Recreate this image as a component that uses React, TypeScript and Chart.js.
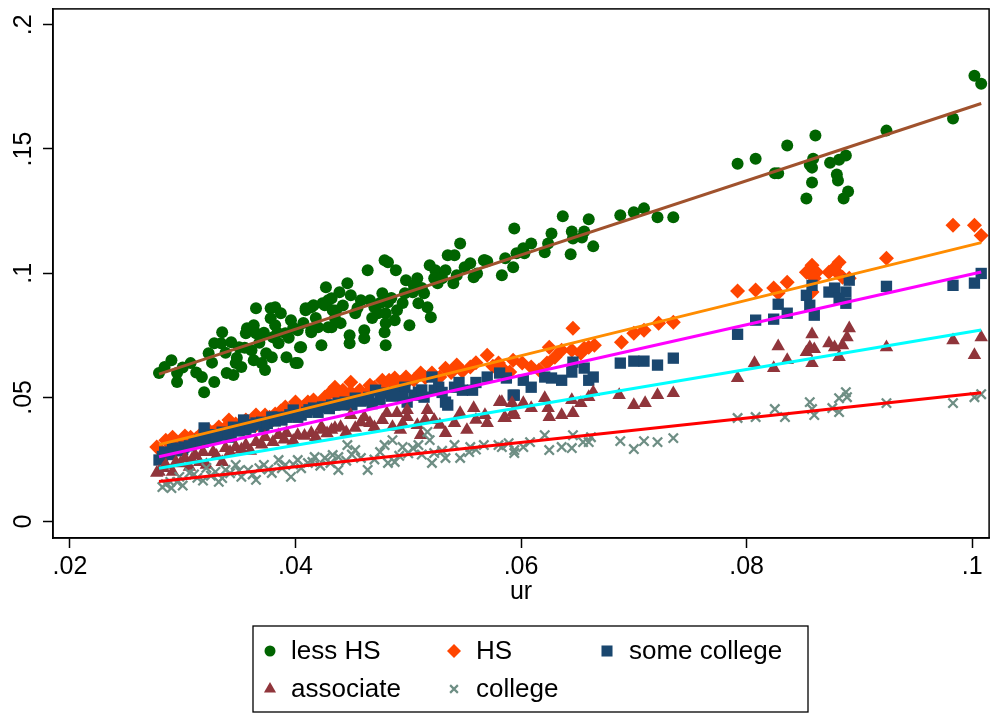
import React, { useEffect, useRef } from "react";
import { Chart, registerables } from "chart.js";

Chart.register(...registerables);

const FONT = "'Liberation Sans', Arial, Helvetica, sans-serif";

const xTickVals = [0.02, 0.04, 0.06, 0.08, 0.1];
const xTickLabels = [".02", ".04", ".06", ".08", ".1"];
const yTickVals = [0, 0.05, 0.1, 0.15, 0.2];
const yTickLabels = ["0", ".05", ".1", ".15", ".2"];
const xTitle = "ur";
const seriesNames = ["less HS", "HS", "some college", "associate", "college"];

const lessHS: number[][] = [
  [0.0279, 0.0598], [0.029, 0.065], [0.0284, 0.0622], [0.0295, 0.0562], [0.0295, 0.0598], [0.0307, 0.0638],
  [0.0317, 0.0582], [0.0319, 0.0521], [0.0328, 0.0562], [0.0323, 0.0678], [0.0328, 0.0718], [0.0334, 0.0718],
  [0.0335, 0.0762], [0.0339, 0.0598], [0.0343, 0.0722], [0.0345, 0.059], [0.0347, 0.0638], [0.0352, 0.0622],
  [0.035, 0.0702], [0.0356, 0.0758], [0.0357, 0.0778], [0.0363, 0.079], [0.0365, 0.0758], [0.0361, 0.069],
  [0.0365, 0.0859], [0.0363, 0.065], [0.037, 0.0638], [0.0373, 0.061], [0.0374, 0.0678], [0.0378, 0.0859],
  [0.0382, 0.0863], [0.0378, 0.0819], [0.0382, 0.079], [0.0387, 0.0839], [0.038, 0.0742], [0.0385, 0.0718],
  [0.0379, 0.0662], [0.0392, 0.0662], [0.0391, 0.0758], [0.0396, 0.0811], [0.04, 0.0638], [0.0405, 0.0702],
  [0.0409, 0.0851], [0.0414, 0.0863], [0.0414, 0.0762], [0.042, 0.0782], [0.0423, 0.071], [0.0424, 0.0879],
  [0.0427, 0.0943], [0.0429, 0.0891], [0.0429, 0.0782], [0.0435, 0.0819],
  [0.0402, 0.077], [0.0404, 0.0702], [0.0402, 0.0638], [0.0409, 0.0859], [0.0416, 0.0871], [0.0414, 0.077],
  [0.0426, 0.0871], [0.0432, 0.0899], [0.0433, 0.0851], [0.0432, 0.0782], [0.0439, 0.0923], [0.044, 0.0799],
  [0.0446, 0.096], [0.0448, 0.075], [0.0448, 0.0718], [0.0449, 0.0911], [0.0453, 0.0839], [0.0458, 0.0891],
  [0.0461, 0.077], [0.0461, 0.0738], [0.0464, 0.1012], [0.0466, 0.0891], [0.047, 0.0863], [0.0473, 0.0839],
  [0.0479, 0.1052], [0.0482, 0.1044], [0.0477, 0.0919], [0.0482, 0.0883], [0.048, 0.0839], [0.048, 0.0799],
  [0.0479, 0.0762], [0.048, 0.071], [0.0488, 0.0811], [0.0489, 0.1012], [0.049, 0.0851], [0.0497, 0.0919],
  [0.0498, 0.0972], [0.0501, 0.079], [0.0504, 0.0923], [0.0508, 0.098], [0.0509, 0.0879], [0.0514, 0.0919],
  [0.0517, 0.0863], [0.0519, 0.1032], [0.052, 0.0823], [0.0524, 0.1012], [0.0523, 0.098], [0.0526, 0.096],
  [0.0533, 0.1012], [0.0535, 0.1072], [0.0541, 0.1072], [0.0546, 0.112], [0.0543, 0.0992], [0.055, 0.1024],
  [0.0555, 0.104], [0.0558, 0.0984], [0.0568, 0.1052], [0.0561, 0.0999],
  [0.0567, 0.1052], [0.057, 0.1048], [0.0583, 0.0992], [0.0586, 0.106], [0.0593, 0.1024], [0.0594, 0.118],
  [0.0596, 0.108], [0.0602, 0.11], [0.0603, 0.108], [0.0609, 0.112], [0.0621, 0.1084], [0.0624, 0.112],
  [0.0627, 0.116], [0.0637, 0.1229], [0.0644, 0.1076], [0.0645, 0.1168], [0.0646, 0.114], [0.0654, 0.1144],
  [0.0656, 0.1168], [0.066, 0.1217], [0.0664, 0.1108], [0.0688, 0.1233], [0.07, 0.1245], [0.0709, 0.1261],
  [0.0721, 0.1225], [0.0735, 0.1225],
  [0.0792, 0.1441], [0.0808, 0.1461], [0.0825, 0.1402], [0.0828, 0.1402], [0.0836, 0.1514], [0.0861, 0.1554],
  [0.0853, 0.1301], [0.0858, 0.1365], [0.0856, 0.1437], [0.0858, 0.1425], [0.0859, 0.1461], [0.0874, 0.1445],
  [0.088, 0.1397], [0.0881, 0.1373], [0.0882, 0.1457], [0.0888, 0.1474], [0.089, 0.1329], [0.0886, 0.1301],
  [0.0924, 0.1574], [0.0983, 0.1623], [0.1002, 0.1795], [0.1008, 0.1763],
  [0.03, 0.062], [0.0312, 0.06], [0.0326, 0.064], [0.0338, 0.068], [0.0348, 0.066], [0.0355, 0.07],
  [0.0368, 0.072], [0.0372, 0.076], [0.0384, 0.076], [0.0394, 0.074], [0.0398, 0.078], [0.0407, 0.08],
  [0.0418, 0.082], [0.0436, 0.085], [0.0442, 0.087], [0.0455, 0.086], [0.0468, 0.082], [0.0475, 0.088],
  [0.0485, 0.09], [0.0495, 0.088], [0.0505, 0.095], [0.0512, 0.094], [0.053, 0.098], [0.054, 0.096],
];

const hs: number[][] = [
  [0.0277, 0.03], [0.0285, 0.0328], [0.0291, 0.034], [0.0299, 0.032], [0.0307, 0.034], [0.0316, 0.0352],
  [0.0323, 0.0369], [0.0332, 0.0381], [0.0341, 0.0409], [0.0347, 0.0393], [0.0356, 0.0409], [0.0365, 0.0429],
  [0.0373, 0.0429], [0.0382, 0.0433], [0.0391, 0.0461], [0.04, 0.0481], [0.0411, 0.0481], [0.042, 0.0469],
  [0.0431, 0.0521], [0.0438, 0.0501],
  [0.028, 0.0288], [0.0295, 0.0308], [0.0316, 0.032], [0.0341, 0.0369], [0.0365, 0.0389], [0.0391, 0.0433],
  [0.042, 0.0449], [0.03, 0.033], [0.033, 0.035], [0.036, 0.04], [0.038, 0.041], [0.0405, 0.044],
  [0.035, 0.038], [0.031, 0.031], [0.037, 0.041],
  [0.0435, 0.0541], [0.0442, 0.0529], [0.0449, 0.0561], [0.0449, 0.0521], [0.0457, 0.0529], [0.0464, 0.0521],
  [0.0466, 0.0549], [0.0477, 0.0569], [0.0483, 0.0569], [0.0488, 0.0578], [0.0498, 0.0582], [0.0498, 0.0557],
  [0.0511, 0.0598], [0.0521, 0.0598], [0.0533, 0.0617], [0.0543, 0.063], [0.0555, 0.0622], [0.057, 0.067],
  [0.058, 0.0638], [0.0528, 0.0582], [0.0488, 0.0549], [0.0438, 0.0517], [0.0426, 0.0501],
  [0.0585, 0.061], [0.0593, 0.065], [0.0601, 0.0638], [0.0609, 0.0622], [0.0623, 0.0638], [0.0625, 0.0702],
  [0.063, 0.0662], [0.0636, 0.069], [0.0646, 0.0778], [0.0645, 0.069], [0.0653, 0.0678], [0.066, 0.0702],
  [0.0665, 0.071], [0.0656, 0.0698], [0.0689, 0.0722], [0.07, 0.0758], [0.0709, 0.077], [0.0722, 0.0799],
  [0.0735, 0.0803], [0.059, 0.0602], [0.0616, 0.061],
  [0.0792, 0.0928], [0.0808, 0.0932], [0.0824, 0.094], [0.0828, 0.092], [0.0836, 0.0964], [0.0853, 0.1004],
  [0.0858, 0.1032], [0.0862, 0.1004], [0.0858, 0.0924], [0.0873, 0.1004], [0.088, 0.1004], [0.0882, 0.1044],
  [0.0878, 0.1023], [0.0885, 0.0984], [0.0891, 0.098], [0.0924, 0.106], [0.0983, 0.1193], [0.1002, 0.1193],
  [0.1008, 0.1152], [0.086, 0.098],
  [0.0288, 0.0315], [0.0302, 0.0345], [0.0312, 0.0335], [0.0327, 0.036], [0.0337, 0.0375], [0.0352, 0.0395],
  [0.0362, 0.0405], [0.0377, 0.042], [0.0387, 0.0445], [0.0397, 0.0455], [0.0408, 0.0465], [0.0416, 0.049],
  [0.0428, 0.048], [0.0445, 0.05], [0.0455, 0.051], [0.047, 0.054], [0.048, 0.053], [0.0493, 0.056],
  [0.0505, 0.057], [0.0515, 0.058], [0.0538, 0.06], [0.0548, 0.0605], [0.056, 0.064], [0.0575, 0.0625],
];

const someCollege: number[][] = [
  [0.0279, 0.0248], [0.0284, 0.028], [0.0291, 0.0296], [0.0301, 0.03], [0.031, 0.032], [0.0319, 0.0377],
  [0.0321, 0.0328], [0.0329, 0.0336], [0.0338, 0.0348], [0.0343, 0.034], [0.0354, 0.0409], [0.0356, 0.0369],
  [0.0365, 0.0397], [0.0372, 0.0381], [0.0379, 0.0421], [0.0388, 0.0409], [0.0398, 0.0449], [0.0405, 0.0429],
  [0.0416, 0.0457], [0.0426, 0.0461], [0.0435, 0.0469],
  [0.0424, 0.0461], [0.0432, 0.0469], [0.0438, 0.0477], [0.0444, 0.0481], [0.0453, 0.0497], [0.0461, 0.0489],
  [0.0471, 0.0529], [0.0479, 0.0517], [0.0488, 0.0521], [0.0497, 0.0541], [0.0499, 0.0481], [0.0505, 0.0509],
  [0.0509, 0.0521], [0.0521, 0.0582], [0.0523, 0.0529], [0.0533, 0.0481], [0.0541, 0.0541], [0.0548, 0.0529],
  [0.0557, 0.0529], [0.057, 0.0582], [0.0581, 0.0598], [0.0593, 0.0509], [0.0535, 0.0469], [0.0514, 0.0501],
  [0.0527, 0.0541],
  [0.0587, 0.0578], [0.0594, 0.0509], [0.0602, 0.0569], [0.0609, 0.0541], [0.0621, 0.0582], [0.0627, 0.0578],
  [0.0636, 0.0569], [0.0645, 0.0602], [0.0646, 0.0642], [0.0656, 0.0618], [0.066, 0.0569], [0.0664, 0.0582],
  [0.0688, 0.0638], [0.07, 0.0646], [0.0709, 0.0646], [0.0721, 0.063], [0.0735, 0.0658],
  [0.0792, 0.0754], [0.0808, 0.0811], [0.0824, 0.0815], [0.0828, 0.0875], [0.0836, 0.0839], [0.0853, 0.0911],
  [0.0858, 0.0951], [0.0856, 0.0871], [0.086, 0.0831], [0.0873, 0.0924], [0.0878, 0.094], [0.0882, 0.0899],
  [0.0888, 0.0879], [0.0888, 0.0924], [0.0891, 0.0972], [0.0924, 0.0947], [0.0983, 0.0951], [0.1002, 0.096],
  [0.1008, 0.0999],
  [0.029, 0.027], [0.03, 0.029], [0.0315, 0.033], [0.0325, 0.035], [0.0335, 0.036], [0.0345, 0.038],
  [0.036, 0.038], [0.037, 0.04], [0.0385, 0.042], [0.0395, 0.043], [0.041, 0.044], [0.042, 0.044],
  [0.045, 0.047], [0.0465, 0.05], [0.0475, 0.049],
  [0.0282, 0.0262], [0.0296, 0.0285], [0.0306, 0.0305], [0.0318, 0.032], [0.033, 0.0345], [0.034, 0.0355],
  [0.035, 0.0365], [0.0362, 0.039], [0.0375, 0.0395], [0.0382, 0.0405], [0.0392, 0.042], [0.0402, 0.042],
  [0.0412, 0.045], [0.043, 0.0455], [0.0442, 0.047], [0.0458, 0.0485], [0.0468, 0.0475], [0.0485, 0.0505],
  [0.0495, 0.05], [0.0512, 0.053], [0.053, 0.052], [0.0545, 0.056], [0.056, 0.056],
];

const associate: number[][] = [
  [0.0279, 0.02], [0.0277, 0.0196], [0.0285, 0.0228], [0.0294, 0.024], [0.0302, 0.0256], [0.0311, 0.0268],
  [0.0318, 0.028], [0.0327, 0.028], [0.0338, 0.0296], [0.0347, 0.03], [0.0356, 0.0308], [0.0365, 0.032],
  [0.0373, 0.034], [0.0385, 0.0348], [0.0392, 0.0356], [0.0402, 0.0348], [0.0414, 0.0356], [0.0424, 0.0369],
  [0.0435, 0.0377], [0.0291, 0.02], [0.0306, 0.022], [0.0321, 0.0228], [0.0335, 0.024],
  [0.0423, 0.0381], [0.0432, 0.0369], [0.044, 0.0381], [0.0449, 0.0429], [0.0453, 0.0377], [0.0461, 0.0421],
  [0.0466, 0.0397], [0.0477, 0.0409], [0.0481, 0.0437], [0.049, 0.0437], [0.0486, 0.0381], [0.0493, 0.0369],
  [0.0499, 0.0421], [0.0508, 0.0389], [0.0511, 0.0348], [0.0517, 0.0449], [0.0523, 0.0409], [0.0533, 0.0356],
  [0.0541, 0.0397], [0.0546, 0.0437], [0.0552, 0.0369], [0.0558, 0.0457], [0.0568, 0.0429], [0.057, 0.0397],
  [0.0581, 0.0481], [0.0585, 0.0417], [0.0593, 0.0441], [0.0499, 0.0449],
  [0.0583, 0.0481], [0.0586, 0.0417], [0.0592, 0.0477], [0.0594, 0.0429], [0.0602, 0.0477], [0.0609, 0.0457],
  [0.0621, 0.0497], [0.0624, 0.0457], [0.0625, 0.0421], [0.0636, 0.0429], [0.0645, 0.0489], [0.0646, 0.0437],
  [0.0653, 0.0477], [0.066, 0.0501], [0.0664, 0.0521], [0.0687, 0.0509], [0.07, 0.0469], [0.071, 0.0477],
  [0.0721, 0.0509], [0.0735, 0.0517],
  [0.0792, 0.0578], [0.0807, 0.0638], [0.0824, 0.0618], [0.0828, 0.0706], [0.0836, 0.065], [0.0853, 0.0682],
  [0.0858, 0.0754], [0.0856, 0.0702], [0.086, 0.0694], [0.0858, 0.0638], [0.0873, 0.0718], [0.0878, 0.0702],
  [0.0882, 0.0662], [0.0885, 0.071], [0.0889, 0.0742], [0.0891, 0.0778], [0.0924, 0.0702], [0.0983, 0.073],
  [0.1002, 0.067], [0.1008, 0.0742],
  [0.0283, 0.0215], [0.0298, 0.0235], [0.0308, 0.025], [0.0315, 0.024], [0.033, 0.0265], [0.0342, 0.028],
  [0.0352, 0.029], [0.036, 0.0285], [0.037, 0.031], [0.038, 0.032], [0.039, 0.033], [0.0398, 0.0325],
  [0.0408, 0.0345], [0.0418, 0.034], [0.0428, 0.0355], [0.0445, 0.036], [0.0458, 0.04], [0.047, 0.038],
  [0.0495, 0.0395], [0.0515, 0.041], [0.0528, 0.039], [0.056, 0.041],
];

const college: number[][] = [
  [0.0282, 0.0139], [0.029, 0.0135], [0.0289, 0.016], [0.0297, 0.018], [0.0306, 0.0196], [0.0313, 0.0176],
  [0.0321, 0.0216], [0.0329, 0.02], [0.0332, 0.016], [0.0338, 0.0208], [0.0347, 0.0228], [0.0352, 0.018],
  [0.0358, 0.0208], [0.0365, 0.0168], [0.0372, 0.0228], [0.0379, 0.0196], [0.0385, 0.0248], [0.0391, 0.0228],
  [0.0396, 0.018], [0.0402, 0.0248], [0.0411, 0.0236], [0.0417, 0.026], [0.0426, 0.0256], [0.0431, 0.0236],
  [0.0438, 0.026],
  [0.0433, 0.0268], [0.0438, 0.0208], [0.0446, 0.0308], [0.0453, 0.0288], [0.0458, 0.0256], [0.0464, 0.0208],
  [0.0479, 0.0308], [0.0482, 0.0236], [0.0488, 0.024], [0.0486, 0.0328], [0.0495, 0.03], [0.0504, 0.0296],
  [0.0509, 0.0308], [0.0517, 0.0361], [0.0519, 0.0328], [0.0523, 0.0276], [0.0521, 0.0236], [0.0533, 0.0256],
  [0.0541, 0.0308], [0.0546, 0.0256], [0.0554, 0.028], [0.0555, 0.03], [0.0567, 0.0308], [0.058, 0.0308],
  [0.0589, 0.0316],
  [0.0583, 0.03], [0.0594, 0.0288], [0.0594, 0.0276], [0.0602, 0.03], [0.0608, 0.032], [0.0621, 0.0348],
  [0.0625, 0.0288], [0.0636, 0.03], [0.0645, 0.0296], [0.0646, 0.0348], [0.0655, 0.032], [0.0662, 0.034],
  [0.066, 0.032], [0.0688, 0.0324], [0.07, 0.0292], [0.0709, 0.0324], [0.0721, 0.032], [0.0735, 0.0336],
  [0.0792, 0.0417], [0.0808, 0.0421], [0.0825, 0.0453], [0.0834, 0.0421], [0.0856, 0.0481], [0.0858, 0.0453],
  [0.086, 0.0429], [0.0876, 0.0457], [0.0882, 0.0497], [0.0888, 0.0521], [0.0889, 0.0501], [0.0882, 0.0441],
  [0.0924, 0.0477], [0.0983, 0.0477], [0.1002, 0.0501], [0.1008, 0.0513],
  [0.0285, 0.015], [0.0295, 0.016], [0.03, 0.0145], [0.031, 0.019], [0.0318, 0.0165], [0.0325, 0.0185],
  [0.0335, 0.0175], [0.0342, 0.0195], [0.035, 0.0205], [0.0362, 0.019], [0.0368, 0.0215], [0.0376, 0.021],
  [0.0388, 0.0215], [0.0398, 0.023], [0.0405, 0.0215], [0.0415, 0.024], [0.0422, 0.0225], [0.0445, 0.0245],
  [0.045, 0.027], [0.047, 0.025], [0.0475, 0.028], [0.0492, 0.0265], [0.05, 0.0275], [0.0512, 0.027],
  [0.053, 0.0285], [0.056, 0.029],
];

const fitX = [0.0279, 0.1008];
const fitLessHS = [0.0594, 0.1683];
const fitHS = [0.031, 0.1123];
const fitSomeCollege = [0.0261, 0.1005];
const fitAssociate = [0.0215, 0.0771];
const fitCollege = [0.0161, 0.0519];

const markerColors = ["#006400", "#FF4500", "#1A476F", "#90353B", "#6E8E84"];
const markerShapes = ["circle", "rectRot", "rect", "triangle", "crossRot"];
const markerRadii = [6, 7.5, 8, 7.8, 6.6];
const lineColors = ["#A0522D", "#FF8C00", "#FF00FF", "#00FFFF", "#FF0000"];

function drawMarker(ctx: CanvasRenderingContext2D, shape: string, x: number, y: number, r: number, color: string) {
  ctx.save();
  ctx.fillStyle = color;
  ctx.strokeStyle = color;
  ctx.beginPath();
  if (shape === "circle") {
    ctx.arc(x, y, r, 0, Math.PI * 2);
    ctx.fill();
  } else if (shape === "rectRot") {
    ctx.moveTo(x, y - r);
    ctx.lineTo(x + r, y);
    ctx.lineTo(x, y + r);
    ctx.lineTo(x - r, y);
    ctx.closePath();
    ctx.fill();
  } else if (shape === "rect") {
    const s = r * Math.SQRT1_2;
    ctx.rect(x - s, y - s, 2 * s, 2 * s);
    ctx.fill();
  } else if (shape === "triangle") {
    ctx.moveTo(x, y - r);
    ctx.lineTo(x + r * 0.866, y + r * 0.5);
    ctx.lineTo(x - r * 0.866, y + r * 0.5);
    ctx.closePath();
    ctx.fill();
  } else {
    const d = r * Math.SQRT1_2;
    ctx.lineWidth = 2.2;
    ctx.moveTo(x - d, y - d);
    ctx.lineTo(x + d, y + d);
    ctx.moveTo(x + d, y - d);
    ctx.lineTo(x - d, y + d);
    ctx.stroke();
  }
  ctx.restore();
}

const decorPlugin = {
  id: "decor",
  afterDraw(chart: any) {
    const ctx: CanvasRenderingContext2D = chart.ctx;
    const { left, right, top, bottom } = chart.chartArea;
    ctx.save();
    ctx.strokeStyle = "#000";
    ctx.lineWidth = 1.5;
    ctx.strokeRect(left, top, right - left, bottom - top);

    const ys = chart.scales.y;
    ctx.fillStyle = "#000";
    ctx.font = `25px ${FONT}`;
    ctx.textAlign = "center";
    ctx.textBaseline = "middle";
    yTickVals.forEach((v, i) => {
      const py = ys.getPixelForValue(v);
      ctx.save();
      ctx.translate(left - 29, py);
      ctx.rotate(-Math.PI / 2);
      ctx.fillText(yTickLabels[i], 0, 0);
      ctx.restore();
    });

    ctx.fillText(xTitle, (left + right) / 2, bottom + 54);

    const lx0 = 253, ly0 = 626, lw = 555, lh = 86;
    ctx.lineWidth = 1.3;
    ctx.strokeStyle = "#000";
    ctx.strokeRect(lx0, ly0, lw, lh);
    const markerX = [270, 454, 607];
    const textX = [291, 476, 629];
    const rowY = [651, 689];
    const legendR = [5.5, 7, 7.8, 7, 5.5];
    ctx.font = `26px ${FONT}`;
    ctx.textAlign = "left";
    ctx.textBaseline = "middle";
    seriesNames.forEach((name, i) => {
      const col = i % 3;
      const row = Math.floor(i / 3);
      drawMarker(ctx, markerShapes[i], markerX[col], rowY[row], legendR[i], markerColors[i]);
      ctx.fillStyle = "#000";
      ctx.fillText(name, textX[col], rowY[row] + 1);
    });
    ctx.restore();
  },
};

export default function App() {
  const ref = useRef<HTMLCanvasElement | null>(null);
  useEffect(() => {
    document.body.style.margin = "0";
    const canvas = ref.current;
    if (!canvas) return;
    const seriesData = [lessHS, hs, someCollege, associate, college];
    const fits = [fitLessHS, fitHS, fitSomeCollege, fitAssociate, fitCollege];
    const scatterSets = seriesData.map((arr, i) => ({
      label: seriesNames[i],
      data: arr.map(([x, y]) => ({ x, y })),
      pointStyle: markerShapes[i] as any,
      pointRadius: markerRadii[i],
      pointHoverRadius: markerRadii[i],
      backgroundColor: markerColors[i],
      borderColor: markerColors[i],
      borderWidth: markerShapes[i] === "crossRot" ? 2.3 : 0,
      showLine: false,
      order: 5 - i + 1,
    }));
    const lineSets = fits.map((f, i) => ({
      label: "fit " + seriesNames[i],
      data: fitX.map((x, j) => ({ x, y: f[j] })),
      showLine: true,
      borderColor: lineColors[i],
      backgroundColor: lineColors[i],
      borderWidth: 3,
      pointRadius: 0,
      pointHoverRadius: 0,
      fill: false,
      order: 0,
    }));
    const chart = new Chart(canvas, {
      type: "scatter",
      data: { datasets: [...scatterSets, ...lineSets] as any },
      options: {
        animation: false,
        responsive: false,
        events: [],
        layout: { padding: { top: 8, right: 3, left: 0, bottom: 0 } },
        plugins: { legend: { display: false }, tooltip: { enabled: false } },
        scales: {
          x: {
            type: "linear",
            min: 0.0185,
            max: 0.1015,
            afterBuildTicks: (s: any) => {
              s.ticks = xTickVals.map((v) => ({ value: v }));
            },
            afterFit: (s: any) => {
              s.height = 176;
            },
            ticks: {
              callback: (_v: any, i: number) => xTickLabels[i],
              font: { family: FONT, size: 25 },
              color: "#000",
              padding: 4,
              maxRotation: 0,
              minRotation: 0,
              autoSkip: false,
            },
            grid: { drawOnChartArea: false, drawTicks: true, tickLength: 10, tickColor: "#000", tickWidth: 1.5 },
            border: { display: true, color: "#000", width: 1.5 },
          },
          y: {
            type: "linear",
            min: -0.0066,
            max: 0.2064,
            afterBuildTicks: (s: any) => {
              s.ticks = yTickVals.map((v) => ({ value: v }));
            },
            afterFit: (s: any) => {
              s.width = 53;
            },
            ticks: { display: false },
            grid: { drawOnChartArea: false, drawTicks: true, tickLength: 10, tickColor: "#000", tickWidth: 1.5 },
            border: { display: true, color: "#000", width: 1.5 },
          },
        },
      },
      plugins: [decorPlugin],
    });
    return () => chart.destroy();
  }, []);
  return <canvas ref={ref} width={998} height={714} style={{ display: "block" }} />;
}
